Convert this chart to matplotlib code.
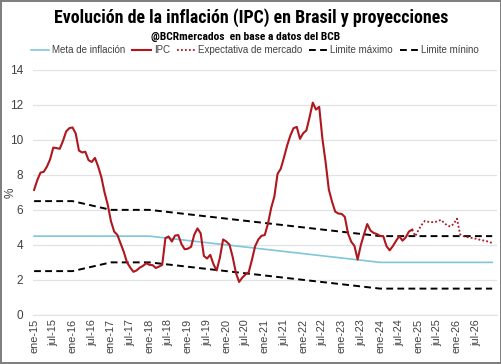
import matplotlib.pyplot as plt
import numpy as np
from matplotlib.lines import Line2D
from matplotlib import font_manager as fm

# IPC interanual (%), ene-15 .. nov-24
ipc = [7.14, 7.70, 8.13, 8.17, 8.47, 8.89, 9.56, 9.53, 9.49, 9.93, 10.48, 10.67,
       10.71, 10.36, 9.39, 9.28, 9.32, 8.84, 8.74, 8.97, 8.48, 7.87, 6.99, 6.29,
       5.35, 4.76, 4.57, 4.08, 3.60, 3.00, 2.71, 2.46, 2.54, 2.70, 2.80, 2.95,
       2.86, 2.84, 2.68, 2.76, 2.86, 4.39, 4.48, 4.19, 4.53, 4.56, 4.05, 3.75,
       3.78, 3.89, 4.58, 4.94, 4.66, 3.37, 3.22, 3.43, 2.89, 2.54, 3.27, 4.31,
       4.19, 4.01, 3.30, 2.40, 1.88, 2.13, 2.31, 2.44, 3.14, 3.92, 4.31, 4.52,
       4.56, 5.20, 6.10, 6.76, 8.06, 8.35, 8.99, 9.68, 10.25, 10.67, 10.74, 10.06,
       10.38, 10.54, 11.30, 12.13, 11.73, 11.89, 10.07, 8.73, 7.17, 6.47, 5.90, 5.79,
       5.77, 5.60, 4.65, 4.18, 3.94, 3.16, 3.99, 4.61, 5.19, 4.82, 4.68, 4.62,
       4.51, 4.50, 3.93, 3.69, 3.93, 4.23, 4.50, 4.24, 4.42, 4.76, 4.87]

# Expectativa de mercado, nov-24 .. dic-26
expectativa = [4.87, 4.50, 4.85, 5.15, 5.37, 5.32, 5.30, 5.30, 5.35, 5.43, 5.26, 5.10,
               5.05, 5.20, 5.50, 4.60, 4.50, 4.45, 4.42, 4.38, 4.35, 4.30, 4.26, 4.22,
               4.18, 4.10]

# Meta y bandas (valores en enero de cada año, ultimo punto dic-26)
meta_mes = [0, 12, 24, 36, 48, 60, 72, 84, 96, 108, 120, 132, 143]
meta = [4.5, 4.5, 4.5, 4.5, 4.25, 4.0, 3.75, 3.5, 3.25, 3.0, 3.0, 3.0, 3.0]
lim_max = [6.5, 6.5, 6.0, 6.0, 5.75, 5.5, 5.25, 5.0, 4.75, 4.5, 4.5, 4.5, 4.5]
lim_min = [2.5, 2.5, 3.0, 3.0, 2.75, 2.5, 2.25, 2.0, 1.75, 1.5, 1.5, 1.5, 1.5]

tick_labels = []
for yr in range(15, 27):
    tick_labels += [f"ene-{yr}", f"jul-{yr}"]

plt.rcParams['font.family'] = ['Liberation Sans', 'DejaVu Sans']


# fuente estrecha para el titulo, si hay alguna
def pick_narrow():
    for fam in ['Liberation Sans Narrow', 'Roboto Condensed', 'Open Sans Condensed',
                'DejaVu Sans']:
        try:
            p = fm.findfont(fm.FontProperties(family=fam, weight='bold', stretch='condensed'),
                            fallback_to_default=False)
        except Exception:
            continue
        if fam != 'DejaVu Sans' or 'Condensed' in p:
            return fm.FontProperties(fname=p)
    return fm.FontProperties(family='Liberation Sans', weight='bold')


narrow = pick_narrow()

c_meta = '#80C6DA'
c_ipc = '#B0161E'
dash = (0, (3.5, 2.2))

fig = plt.figure(figsize=(5.02, 3.64), dpi=100, linewidth=1.5, edgecolor='#7f7f7f')
ax = fig.add_axes([0.066, 0.135, 0.924, 0.673])

x_ipc = np.arange(len(ipc))
x_exp = np.arange(len(ipc) - 1, len(ipc) - 1 + len(expectativa))

ax.plot(meta_mes, meta, color=c_meta, lw=1.2, zorder=2)
ax.plot(x_ipc, ipc, color=c_ipc, lw=1.5, zorder=4)
ax.plot(x_exp, expectativa, color=c_ipc, lw=1.3, ls=(0, (1, 1.2)), zorder=4)
ax.plot(meta_mes, lim_max, color='black', lw=1.4, ls=dash, zorder=3)
ax.plot(meta_mes, lim_min, color='black', lw=1.4, ls=dash, zorder=3)

ax.set_ylim(0, 14)
ax.set_yticks(np.arange(0, 15, 2))
ax.set_xlim(-0.3, 144.5)
ax.set_xticks(np.arange(0, 144, 6))
ax.set_xticklabels(tick_labels, rotation=90, fontsize=7.8, color='#404040')
ax.tick_params(axis='y', labelsize=8.5, labelcolor='#404040', length=0, pad=7)
ax.tick_params(axis='x', length=0, pad=3)
ax.grid(axis='y', color='#e3e3e3', lw=0.9)
ax.set_axisbelow(True)
for s in ['top', 'right', 'left']:
    ax.spines[s].set_visible(False)
ax.spines['bottom'].set_color('#e3e3e3')
ax.set_ylabel('%', fontsize=8.5, color='#404040')
ax.yaxis.set_label_coords(-0.035, 0.5)

title = fig.text(0.5, 0.952, 'Evolución de la inflación (IPC) en Brasil y proyecciones',
                 ha='center', va='center', fontproperties=narrow, fontsize=14,
                 fontweight='bold')
sub = fig.text(0.49, 0.898, '@BCRmercados  en base a datos del BCB', ha='center',
               va='center', fontproperties=narrow, fontsize=8, fontweight='bold')

handles = [Line2D([], [], color=c_meta, lw=1.2),
           Line2D([], [], color=c_ipc, lw=1.5),
           Line2D([], [], color=c_ipc, lw=1.3, ls=(0, (1, 1.2))),
           Line2D([], [], color='black', lw=1.4, ls=dash),
           Line2D([], [], color='black', lw=1.4, ls=dash)]
labels = ['Meta de inflación', 'IPC', 'Expectativa de mercado', 'Limite máximo', 'Limite mínino']
fig.legend(handles, labels, loc='center', bbox_to_anchor=(0.508, 0.862), ncol=5,
           frameon=False, fontsize=7.0, handlelength=1.9, handletextpad=0.3,
           columnspacing=0.7, labelcolor='#404040')

# ajustar ancho de titulo y subtitulo al de la referencia
fig.canvas.draw()
for t, target in [(title, 395), (sub, 190)]:
    w = t.get_window_extent().width
    t.set_fontsize(t.get_fontsize() * target / w)

fig.savefig('out.png', dpi=100, edgecolor=fig.get_edgecolor())
